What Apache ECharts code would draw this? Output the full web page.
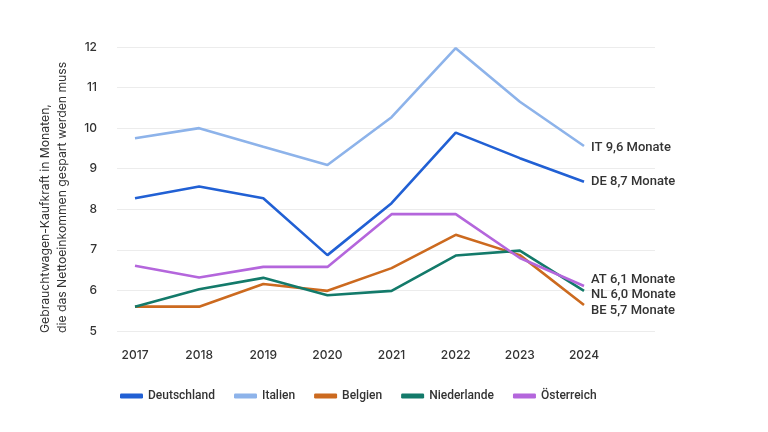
<!DOCTYPE html>
<html>
<head>
<meta charset="utf-8">
<script src="https://cdn.jsdelivr.net/npm/echarts@6/dist/echarts.min.js"></script>
<style>html,body{margin:0;padding:0;background:#fff}#c{width:768px;height:432px}</style>
</head>
<body>
<div id="c"></div>
<script>
const years = ['2017','2018','2019','2020','2021','2022','2023','2024'];
const deutschland = [8.27, 8.56, 8.27, 6.87, 8.15, 9.89, 9.26, 8.68];
const italien     = [9.75, 10.0, 9.54, 9.09, 10.27, 11.97, 10.65, 9.56];
const belgien     = [5.6, 5.6, 6.16, 5.99, 6.55, 7.37, 6.87, 5.64];
const niederlande = [5.6, 6.03, 6.31, 5.88, 5.99, 6.86, 6.98, 5.99];
const oesterreich = [6.61, 6.32, 6.58, 6.58, 7.88, 7.88, 6.8, 6.11];
const endLabels = {
  'Deutschland': 'DE 8,7 Monate',
  'Italien': 'IT 9,6 Monate',
  'Belgien': 'BE 5,7 Monate',
  'Niederlande': 'NL 6,0 Monate',
  'Österreich': 'AT 6,1 Monate'
};
const yTicks = [5, 6, 7, 8, 9, 10, 11, 12];
const yTitle = 'Gebrauchtwagen-Kaufkraft in Monaten,\ndie das Nettoeinkommen gespart werden muss';

const chart = echarts.init(document.getElementById('c'));
const font = 'Inter, "Noto Sans", sans-serif';
function mk(name, data, color, offY) {
  return {
    name, type: 'line', data, xAxisIndex: 0, yAxisIndex: 0,
    showSymbol: false, symbol: 'none', smooth: false,
    lineStyle: { width: 2.6, color }, itemStyle: { color },
    emphasis: { disabled: true },
    endLabel: {
      show: true, formatter: () => endLabels[name], distance: 7,
      offset: [0, offY], color: '#333', fontSize: 13, fontWeight: 500,
      fontFamily: 'Roboto, sans-serif'
    }
  };
}
chart.setOption({
  animation: false,
  backgroundColor: '#fff',
  grid: [
    { left: 135, right: 184, top: 47, bottom: 101 },
    { left: 117, right: 113, top: 47, bottom: 101 }
  ],
  xAxis: [
    { type: 'category', data: years, boundaryGap: false, gridIndex: 0,
      axisLine: { show: false }, axisTick: { show: false }, splitLine: { show: false },
      axisLabel: { color: '#333', fontSize: 12, fontWeight: 500, fontFamily: font, margin: 18 } },
    { type: 'value', gridIndex: 1, show: false, min: 0, max: 1 }
  ],
  yAxis: [
    { type: 'value', gridIndex: 0, min: 5, max: 12, interval: 1,
      axisLabel: { show: false }, axisLine: { show: false }, axisTick: { show: false }, splitLine: { show: false } },
    { type: 'value', gridIndex: 1, min: yTicks[0], max: yTicks[yTicks.length - 1], interval: 1,
      axisLine: { show: false }, axisTick: { show: false },
      splitLine: { show: true, lineStyle: { color: '#ececec', width: 1 } },
      axisLabel: { color: '#333', fontSize: 12, fontWeight: 500, fontFamily: font, margin: 20 } }
  ],
  legend: {
    left: 115, top: 385, itemWidth: 23, itemHeight: 5, itemGap: 19, icon: 'roundRect',
    textStyle: { color: '#333', fontSize: 12, fontWeight: 500, fontFamily: 'Roboto, sans-serif' },
    data: ['Deutschland', 'Italien', 'Belgien', 'Niederlande', 'Österreich']
  },
  graphic: [{
    type: 'text', x: 37, y: 333, rotation: Math.PI / 2,
    style: { text: yTitle, fill: '#333', fontSize: 12.2, lineHeight: 17,
      fontFamily: font, align: 'left', verticalAlign: 'top', textAlign: 'left', textVerticalAlign: 'top' }
  }],
  series: [
    mk('Deutschland', deutschland, '#2160d4', 0),
    mk('Italien', italien, '#8db3ea', 2),
    mk('Belgien', belgien, '#cc6a1f', 6),
    mk('Niederlande', niederlande, '#137a6a', 4),
    mk('Österreich', oesterreich, '#b466dc', -6)
  ]
});
</script>
</body>
</html>
